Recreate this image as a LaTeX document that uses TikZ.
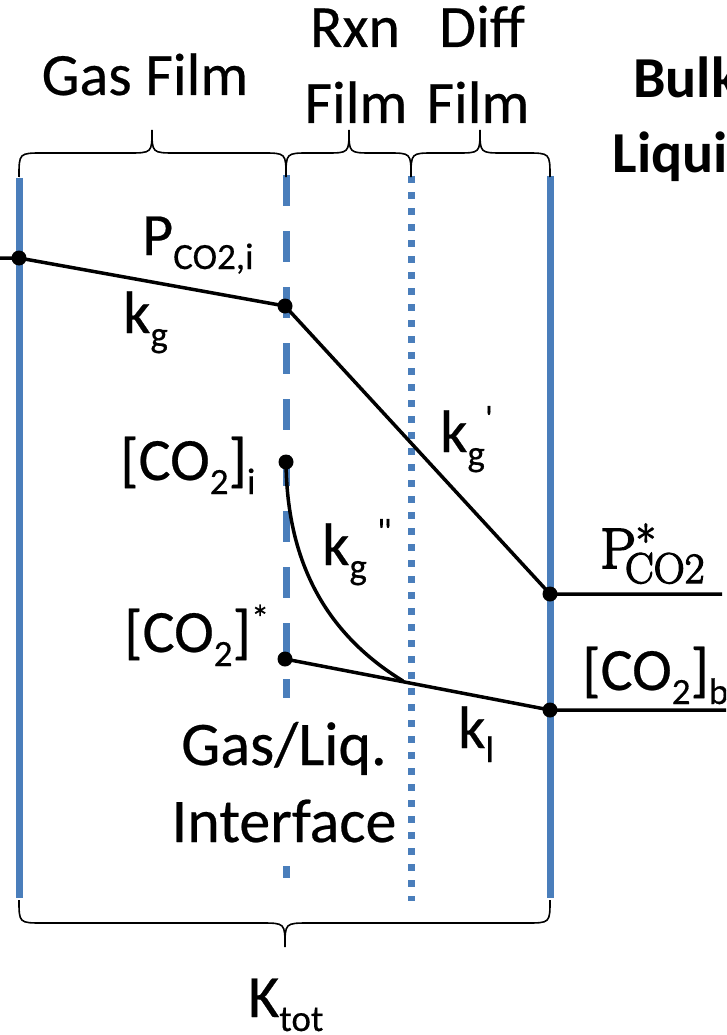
\documentclass[tikz,border=0pt]{standalone}
\usepackage{fontspec}
\newfontfamily\calib[FakeBold=0.4]{Carlito}
\newfontfamily\calibb{Carlito Bold}
\newfontfamily\pserif[FakeBold=3]{Latin Modern Roman}
\definecolor{blueline}{HTML}{4A7EBB}
\newcommand{\sbs}[1]{\raisebox{-14pt}{\fontsize{37}{37}\selectfont #1}}
\newcommand{\sps}[2][21pt]{\raisebox{#1}{\fontsize{37}{37}\selectfont #2}}
\begin{document}
\begin{tikzpicture}[x=1pt,y=-1pt,
  bl/.style={draw=blueline,line width=7pt},
  brace/.style={draw=black,line width=1.6pt},
  conn/.style={draw=black,line width=3.5pt},
  dot/.style={circle,fill=black,inner sep=0pt,minimum size=15pt},
  lbl/.style={inner sep=0pt,anchor=base west,font=\calib\fontsize{60}{72}\selectfont},
  clbl/.style={inner sep=0pt,anchor=base,font=\calib\fontsize{60}{72}\selectfont},
]
\useasboundingbox (0,0) rectangle (726,1035);
\clip (0,0) rectangle (726,1035);
% coordinates
\coordinate (L1t) at (19,178);  \coordinate (L1b) at (19,898);
\coordinate (L2t) at (286,175); \coordinate (L2b) at (286,901);
\coordinate (L3t) at (411,176); \coordinate (L3b) at (411,901);
\coordinate (L4t) at (550,176); \coordinate (L4b) at (550,898);
\coordinate (W) at (0,258);
\coordinate (A) at (19,258);
\coordinate (B) at (285,306);
\coordinate (C) at (550,594);
\coordinate (Cend) at (722,594);
\coordinate (D) at (286,462);
\coordinate (E) at (285,659);
\coordinate (F) at (550,710);
\coordinate (Fend) at (726,710);
\coordinate (G) at (403,681);
% vertical film boundaries
\draw[bl] (L1t) -- (L1b);
\draw[bl,dash pattern=on 31pt off 25pt] (L2t) -- (L2b);
\draw[bl,dash pattern=on 7pt off 9pt] (L3t) -- (L3b);
\draw[bl] (L4t) -- (L4b);
% top braces
\draw[brace] (19,177) .. controls (19,153) .. (43,153) -- (128,153) .. controls (152,153) .. (152,130)
  .. controls (152,153) .. (176,153) -- (262,153) .. controls (286,153) .. (286,177);
\draw[brace] (286,177) .. controls (286,153) .. (309,153) -- (326,153) .. controls (349,153) .. (349,130)
  .. controls (349,153) .. (372,153) -- (388,153) .. controls (411,153) .. (411,177);
\draw[brace] (411,177) .. controls (411,153) .. (434,153) -- (457,153) .. controls (480,153) .. (480,130)
  .. controls (480,153) .. (503,153) -- (526,153) .. controls (550,153) .. (550,177);
% bottom brace
\draw[brace] (19,900) .. controls (19,923) .. (43,923) -- (261,923) .. controls (285,923) .. (285,947)
  .. controls (285,923) .. (309,923) -- (526,923) .. controls (550,923) .. (550,900);
% profile lines
\draw[conn] (W) -- (A) -- (B) -- (C) -- (Cend);
\draw[conn] (E) -- (F) -- (Fend);
\draw[conn] (D) .. controls (287,565) and (328,635) .. (G);
% dots
\node[dot] (dA) at (A) {};
\node[dot] (dB) at (B) {};
\node[dot] (dC) at (C) {};
\node[dot] (dD) at (D) {};
\node[dot] (dE) at (E) {};
\node[dot] (dF) at (F) {};
% header labels
\node[clbl] (gasfilm) at (145,95) {Gas Film};
\node[clbl] (rxn) at (355,47) {Rxn};
\node[clbl] (rxnfilm) at (356,123) {Film};
\node[clbl] (diff) at (482,47) {Diff};
\node[clbl] (difffilm) at (478,123) {Film};
\node[clbl,font=\calibb\fontsize{58}{70}\selectfont] (bulk) at (686,98) {Bulk};
\node[clbl,font=\calibb\fontsize{58}{70}\selectfont] (liquid) at (686,173) {Liquid};
% point labels
\node[lbl] (pco2i) at (142,255) {P\sbs{CO2,i}};
\node[lbl] (kg) at (123,333) {k\sbs{g}};
\node[lbl] (co2i) at (120,480) {[CO\sbs{2}]\sbs{i}};
\node[lbl] (co2star) at (124,652) {[CO\sbs{2}]\sps{*}};
\node[lbl] (kgp) at (440,452) {k\sbs{g}\sps{\textquotesingle}};
\node[lbl] (kgpp) at (322,565) {k\sbs{g}\,\sps{\textquotedbl}};
\node[lbl] (kl) at (458,748) {k\sbs{l}};
\node[lbl] (co2b) at (582,690) {[CO\sbs{2}]\sbs{b}};
\node[inner sep=0pt,anchor=base west,font=\pserif\fontsize{57}{57}\selectfont] (pstar) at (600,568)
  {P\rlap{\raisebox{12pt}{\fontsize{43}{43}\selectfont *}}\hspace{-11pt}\raisebox{-15pt}{\fontsize{43}{43}\selectfont CO2}};
% interface label with white background
\fill[white] (168,698) rectangle (404,866);
\node[clbl,font=\calib\fontsize{62}{74}\selectfont] (gasliq) at (284,765) {Gas/Liq.};
\node[clbl,font=\calib\fontsize{62}{74}\selectfont] (interface) at (284,842) {Interface};
\node[lbl] (ktot) at (248,1017) {K\sbs{tot}};
\end{tikzpicture}
\end{document}
